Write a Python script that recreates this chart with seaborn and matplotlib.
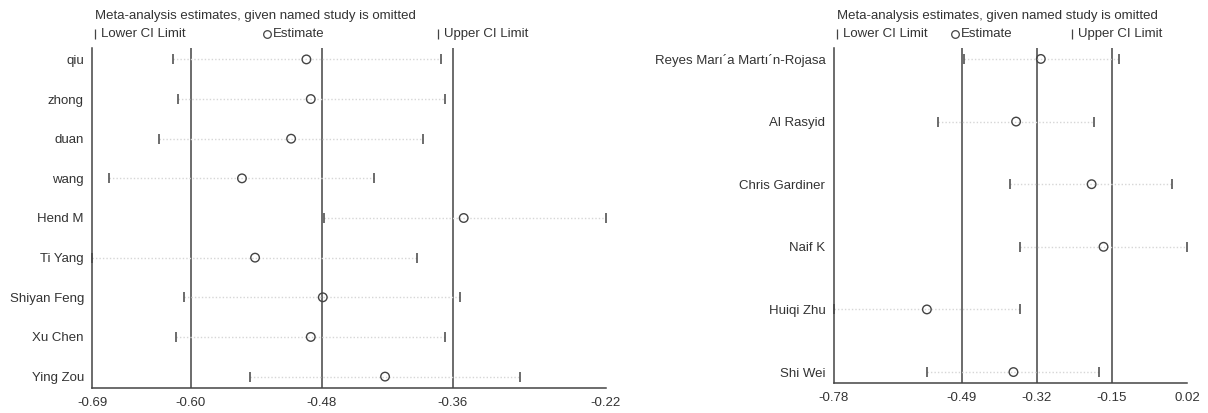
import numpy as np
import pandas as pd
import matplotlib
matplotlib.use('Agg')
import matplotlib.pyplot as plt
import seaborn as sns

# left panel: studies and leave-one-out estimates
studies_a = ['qiu', 'zhong', 'duan', 'wang', 'Hend M', 'Ti Yang',
             'Shiyan Feng', 'Xu Chen', 'Ying Zou']
est_a = [-0.494, -0.490, -0.508, -0.553, -0.350, -0.541, -0.479, -0.490, -0.422]
lower_a = [-0.616, -0.612, -0.629, -0.675, -0.478, -0.690, -0.606, -0.613, -0.546]
upper_a = [-0.371, -0.367, -0.387, -0.432, -0.220, -0.393, -0.353, -0.367, -0.298]
combined_a = [-0.60, -0.48, -0.36]
ticks_a = [-0.69, -0.60, -0.48, -0.36, -0.22]

# right panel
studies_b = ['Reyes Marı´a Martı´n-Rojasa', 'Al Rasyid', 'Chris Gardiner',
             'Naif K', 'Huiqi Zhu', 'Shi Wei']
est_b = [-0.311, -0.367, -0.196, -0.169, -0.569, -0.373]
lower_b = [-0.486, -0.543, -0.380, -0.358, -0.780, -0.569]
upper_b = [-0.135, -0.190, -0.013, 0.020, -0.359, -0.179]
combined_b = [-0.49, -0.32, -0.15]
ticks_b = [-0.78, -0.49, -0.32, -0.15, 0.02]

sns.set_style('white')
plt.rcParams['font.family'] = ['Liberation Sans', 'DejaVu Sans']
plt.rcParams['font.size'] = 9.5

W, H = 1208, 413
dark = '#444444'
txt = '#333333'

fig = plt.figure(figsize=(W / 100, H / 100), dpi=100)


def px_axes(x0, x1, ytop, ybot):
    return fig.add_axes([x0 / W, 1 - ybot / H, (x1 - x0) / W, (ybot - ytop) / H])


def draw_panel(ax, names, est, lo, hi, comb, ticks, pad_rows):
    df = pd.DataFrame({'study': names, 'est': est, 'lower': lo, 'upper': hi})
    df['row'] = np.arange(1, len(names) + 1)

    # faint dotted line between limits
    ax.hlines(df['row'], df['lower'], df['upper'], colors='#d6d6d6',
              linestyles=(0, (1, 1.5)), lw=1)
    # combined estimate and CI
    for v in comb:
        ax.axvline(v, color=dark, lw=1.1, zorder=1)

    sns.scatterplot(data=df, x='lower', y='row', marker='|', s=55,
                    color=dark, linewidth=1.1, clip_on=False, zorder=3, ax=ax)
    sns.scatterplot(data=df, x='upper', y='row', marker='|', s=55,
                    color=dark, linewidth=1.1, clip_on=False, zorder=3, ax=ax)
    sns.scatterplot(data=df, x='est', y='row', marker='o', s=38,
                    facecolor='none', edgecolor=dark, linewidth=1.0,
                    clip_on=False, zorder=4, ax=ax)

    ax.set_xlim(ticks[0], ticks[-1])
    ax.set_ylim(len(names) + pad_rows, 1 - pad_rows)
    ax.set_xticks(ticks, [f'{t:.2f}' for t in ticks])
    ax.set_yticks(df['row'], names)
    ax.set_xlabel('')
    ax.set_ylabel('')
    ax.tick_params(axis='y', length=0, pad=6, colors=txt)
    ax.tick_params(axis='x', direction='out', length=5, width=1, color=dark,
                   pad=2, labelcolor=txt)
    for s in ['top', 'right']:
        ax.spines[s].set_visible(False)
    for s in ['left', 'bottom']:
        ax.spines[s].set_color(dark)
        ax.spines[s].set_linewidth(1.1)


def legend(x0, x1):
    fig.text((x0 + 3) / W, 1 - 15.5 / H,
             'Meta-analysis estimates, given named study is omitted',
             ha='left', va='center', color=txt)
    w = x1 - x0
    ly = 1 - 34 / H
    items = [('|', 'Lower CI Limit'), ('o', 'Estimate'), ('|', 'Upper CI Limit')]
    for i, (m, lab) in enumerate(items):
        cx = x0 + i * w / 3
        if m == 'o':
            fig.lines.append(plt.Line2D([(cx + 4) / W], [ly], marker='o', ms=5.5,
                                        mfc='none', mec=dark, mew=0.9,
                                        transform=fig.transFigure))
        else:
            fig.lines.append(plt.Line2D([(cx + 3) / W], [ly], marker='|', ms=6.5,
                                        mec=dark, mew=0.9,
                                        transform=fig.transFigure))
        fig.text((cx + 9) / W, ly, lab, ha='left', va='center', color=txt)


ax1 = px_axes(92.3, 605.7, 48.3, 387.7)
draw_panel(ax1, studies_a, est_a, lower_a, upper_a, combined_a, ticks_a, 0.28)
legend(92.3, 605.7)

ax2 = px_axes(833.7, 1187, 48.3, 382.7)
draw_panel(ax2, studies_b, est_b, lower_b, upper_b, combined_b, ticks_b, 0.17)
legend(833.7, 1187)

fig.savefig('out.png', dpi=100, facecolor='white')
